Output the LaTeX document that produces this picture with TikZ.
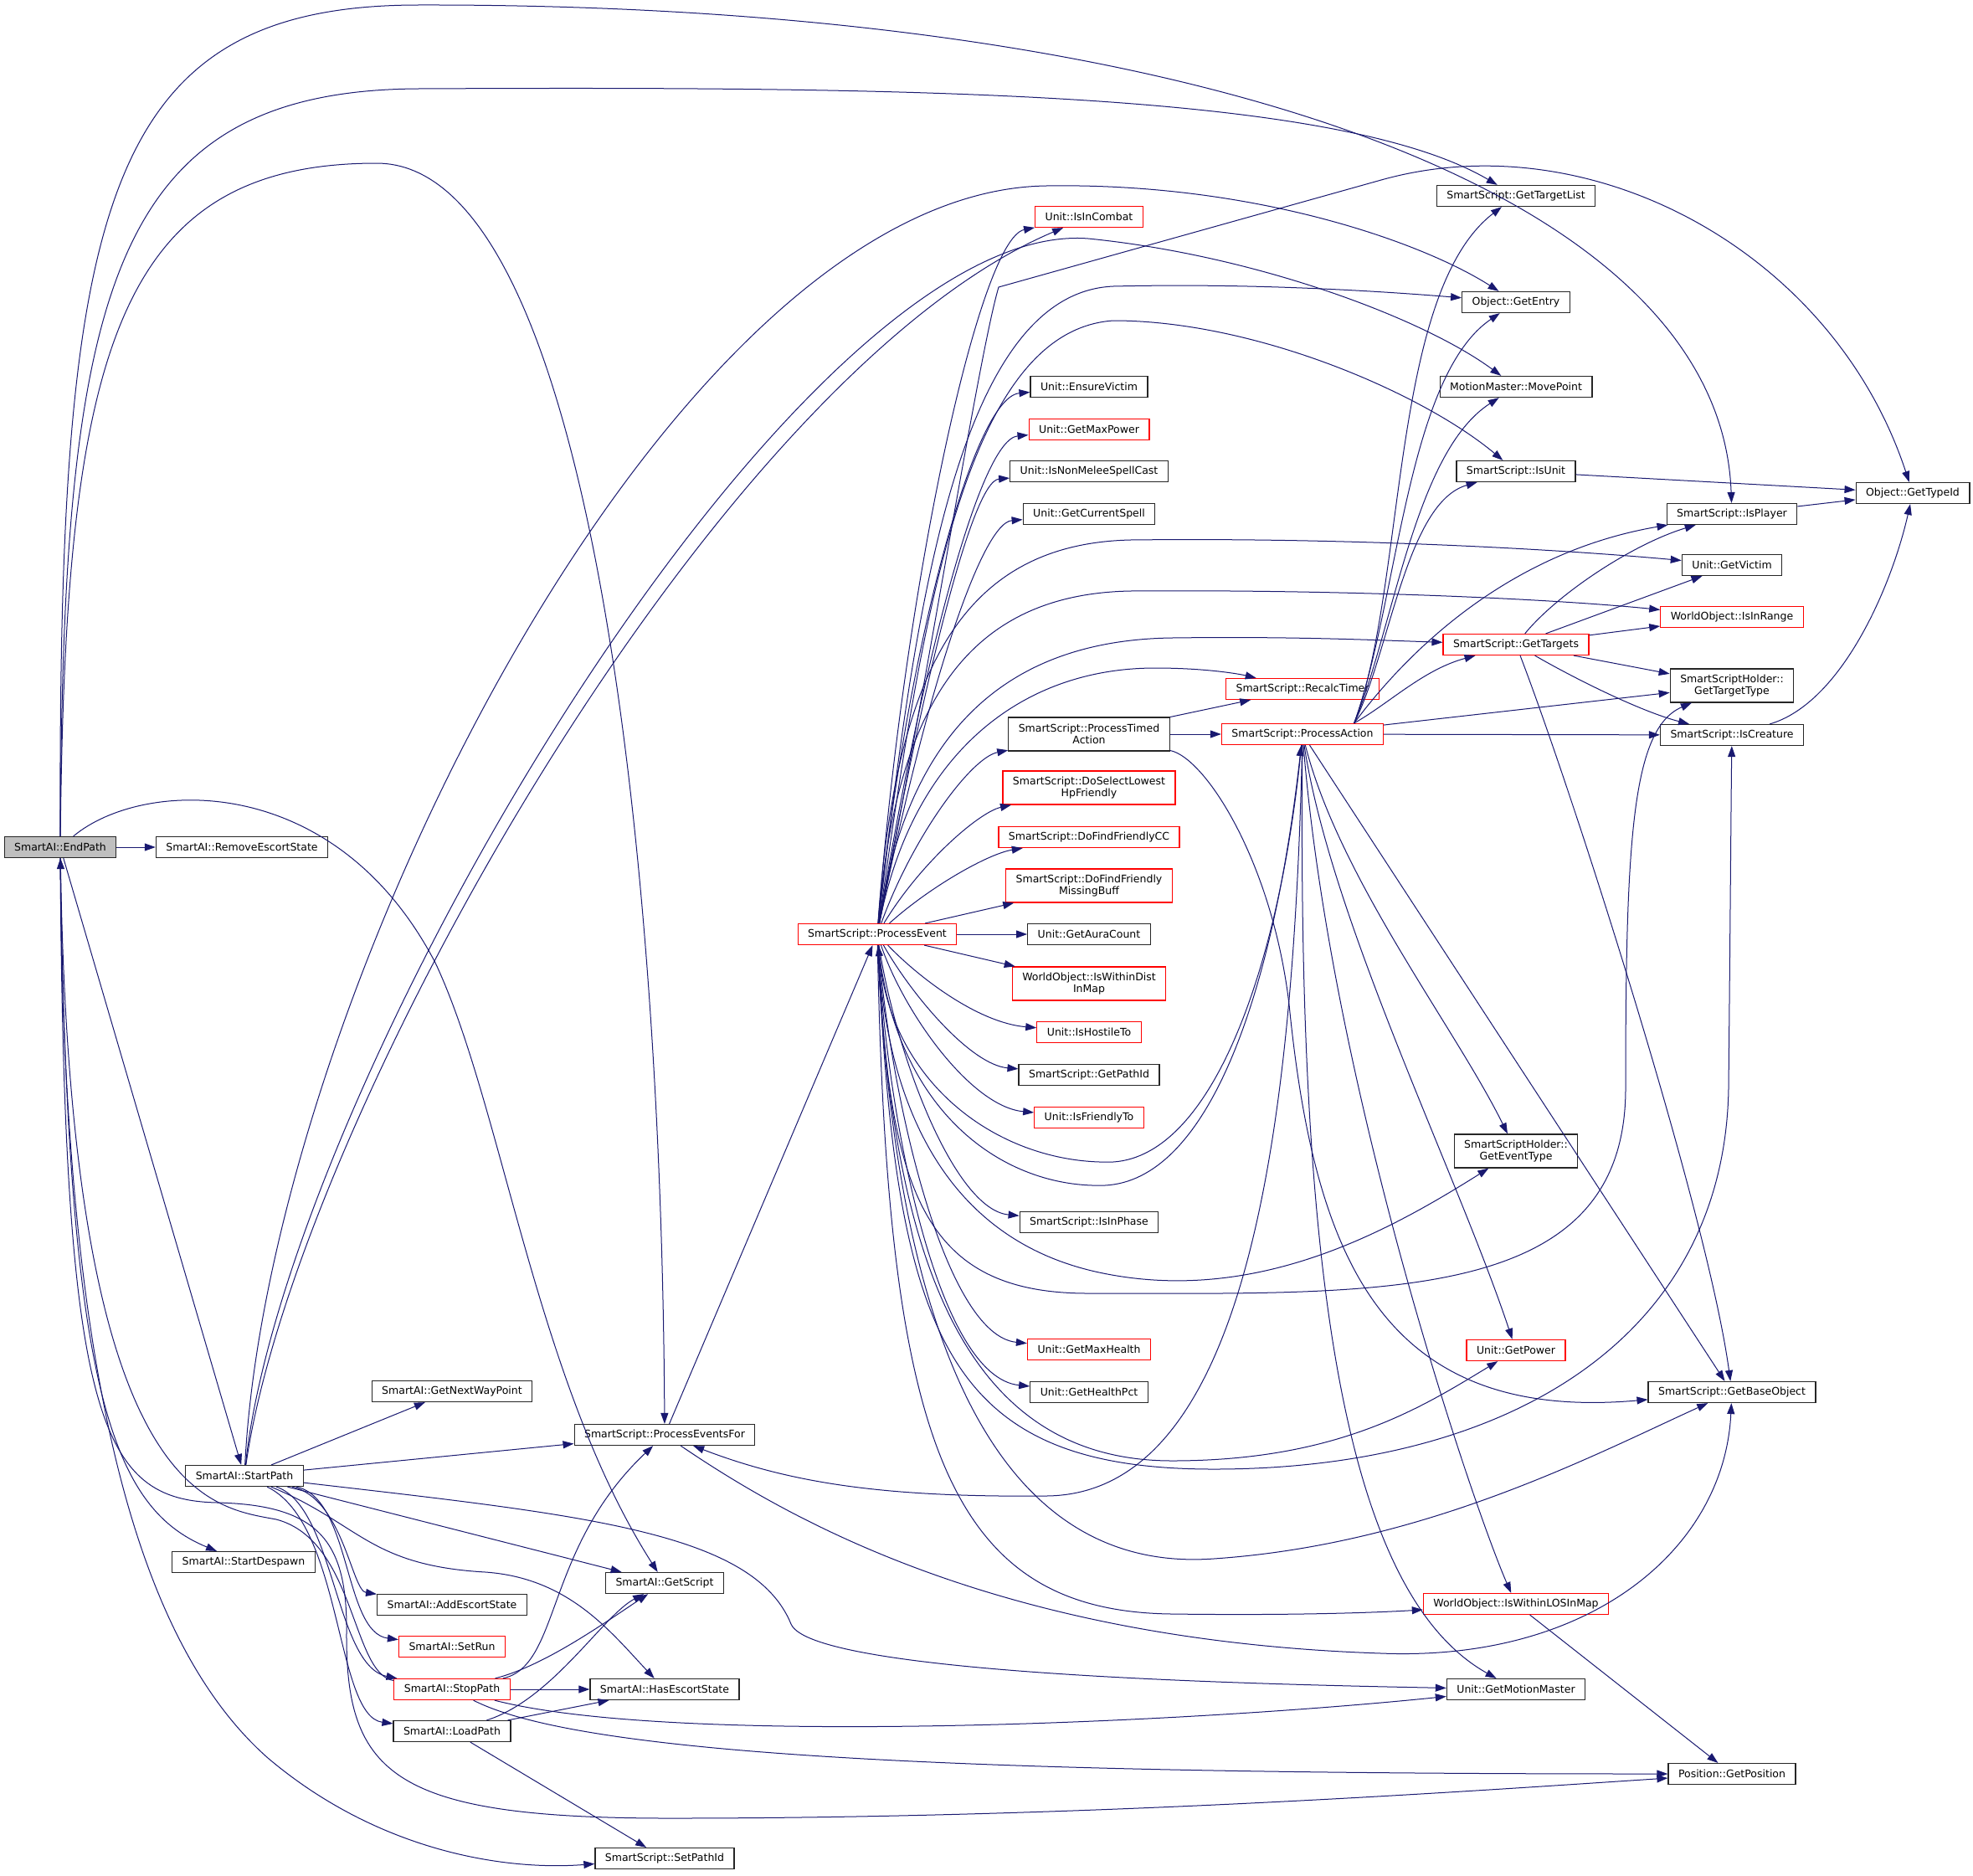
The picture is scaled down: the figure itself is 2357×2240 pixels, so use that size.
\documentclass[tikz,border=0pt]{standalone}
\usepackage{fontspec}
\setmainfont{DejaVu Sans}
\usetikzlibrary{arrows.meta}
\definecolor{navy}{HTML}{191970}

\begin{document}
\begin{tikzpicture}[x=1pt,y=-1pt,
	fn/.style={draw=black!85, line width=1.2pt, fill=white, inner xsep=12pt, inner ysep=2pt, minimum height=25pt, font=\fontsize{12.5}{14}\selectfont, align=center},
	hot/.style={fn, draw=red},
	two/.style={minimum height=40pt},
	call/.style={draw=navy, line width=1pt, -{Triangle[length=13pt,width=9pt]}}]

	% Frame
	\fill[white] (0,0) rectangle (2357,2240);
	\useasboundingbox (0,0) rectangle (2357,2240);

	% SmartAI side
	\node[fn, fill=black!25] (endPath) at (72,1012) {SmartAI::EndPath};
	\node[fn] (removeEscort) at (289,1012) {SmartAI::RemoveEscortState};
	\node[fn] (startPath) at (292,1763) {SmartAI::StartPath};
	\node[fn] (startDespawn) at (291,1866) {SmartAI::StartDespawn};
	\node[fn] (nextWayPoint) at (540,1662) {SmartAI::GetNextWayPoint};
	\node[fn] (eventsFor) at (794,1714) {SmartScript::ProcessEventsFor};
	\node[fn] (getScript) at (794,1891) {SmartAI::GetScript};
	\node[fn] (addEscort) at (540,1917) {SmartAI::AddEscortState};
	\node[hot] (setRun) at (540,1967) {SmartAI::SetRun};
	\node[hot] (stopPath) at (540,2018) {SmartAI::StopPath};
	\node[fn] (hasEscort) at (794,2018) {SmartAI::HasEscortState};
	\node[fn] (loadPath) at (540,2068) {SmartAI::LoadPath};
	\node[fn] (setPathId) at (794,2220) {SmartScript::SetPathId};

	% ProcessEvent and its column
	\node[hot] (event) at (1048,1116) {SmartScript::ProcessEvent};
	\node[hot] (inCombat) at (1301,259) {Unit::IsInCombat};
	\node[fn] (ensureVictim) at (1301,462) {Unit::EnsureVictim};
	\node[hot] (maxPower) at (1301,513) {Unit::GetMaxPower};
	\node[fn] (nonMelee) at (1301,563) {Unit::IsNonMeleeSpellCast};
	\node[fn] (curSpell) at (1301,614) {Unit::GetCurrentSpell};
	\node[hot] (recalc) at (1556,823) {SmartScript::RecalcTimer};
	\node[fn, two] (timed) at (1301,877) {SmartScript::ProcessTimed\\Action};
	\node[hot] (action) at (1556,877) {SmartScript::ProcessAction};
	\node[hot, two] (lowestHp) at (1301,941) {SmartScript::DoSelectLowest\\HpFriendly};
	\node[hot] (friendlyCC) at (1301,1000) {SmartScript::DoFindFriendlyCC};
	\node[hot, two] (missingBuff) at (1301,1058) {SmartScript::DoFindFriendly\\MissingBuff};
	\node[fn] (auraCount) at (1301,1116) {Unit::GetAuraCount};
	\node[hot, two] (distInMap) at (1301,1175) {WorldObject::IsWithinDist\\InMap};
	\node[hot] (hostile) at (1301,1233) {Unit::IsHostileTo};
	\node[fn] (getPathId) at (1301,1284) {SmartScript::GetPathId};
	\node[hot] (friendly) at (1301,1335) {Unit::IsFriendlyTo};
	\node[fn] (inPhase) at (1301,1460) {SmartScript::IsInPhase};
	\node[hot] (maxHealth) at (1301,1612) {Unit::GetMaxHealth};
	\node[fn] (healthPct) at (1301,1663) {Unit::GetHealthPct};

	% Right columns
	\node[fn] (targetList) at (1811,234) {SmartScript::GetTargetList};
	\node[fn] (getEntry) at (1811,361) {Object::GetEntry};
	\node[fn] (movePoint) at (1811,462) {MotionMaster::MovePoint};
	\node[fn] (isUnit) at (1811,563) {SmartScript::IsUnit};
	\node[hot] (targets) at (1811,770) {SmartScript::GetTargets};
	\node[fn, two] (eventType) at (1811,1375) {SmartScriptHolder::\\GetEventType};
	\node[hot] (getPower) at (1811,1613) {Unit::GetPower};
	\node[hot] (losInMap) at (1811,1916) {WorldObject::IsWithinLOSInMap};
	\node[fn] (motionMaster) at (1811,2018) {Unit::GetMotionMaster};
	\node[fn] (isPlayer) at (2069,614) {SmartScript::IsPlayer};
	\node[fn] (getVictim) at (2069,675) {Unit::GetVictim};
	\node[hot] (inRange) at (2069,737) {WorldObject::IsInRange};
	\node[fn, two] (targetType) at (2069,819) {SmartScriptHolder::\\GetTargetType};
	\node[fn] (isCreature) at (2069,878) {SmartScript::IsCreature};
	\node[fn] (baseObject) at (2069,1663) {SmartScript::GetBaseObject};
	\node[fn] (getPosition) at (2069,2119) {Position::GetPosition};
	\node[fn] (typeId) at (2285,589) {Object::GetTypeId};

	% EndPath
	\draw[call] (endPath) -- (removeEscort);
	\draw[call] (endPath) .. controls (70,250) and (120,6) .. (500,6) .. controls (1400,4) and (2055,220) .. (isPlayer);
	\draw[call] (endPath) .. controls (75,350) and (130,108) .. (500,106) .. controls (1100,103) and (1600,110) .. (targetList);
	\draw[call] (endPath) .. controls (78,420) and (140,195) .. (450,195) .. controls (700,195) and (790,1000) .. (eventsFor);
	\draw[call] (endPath) .. controls (170,930) and (400,920) .. (520,1150) .. controls (600,1320) and (640,1650) .. (getScript);
	\draw[call] (endPath) -- (startPath);
	\draw[call] (endPath) .. controls (80,1650) and (130,1800) .. (startDespawn);
	\draw[call] (endPath) .. controls (75,1600) and (150,1950) .. (320,2100) .. controls (450,2210) and (600,2235) .. (setPathId);
	\draw[call] (endPath) .. controls (76,1700) and (120,1792) .. (260,1795) .. controls (380,1798) and (415,1840) .. (414,1950) .. controls (413,2120) and (470,2172) .. (800,2172) .. controls (1300,2172) and (1750,2140) .. (getPosition);

	% StartPath
	\draw[call] (startPath) -- (nextWayPoint);
	\draw[call] (startPath) -- (eventsFor);
	\draw[call] (startPath) -- (getScript);
	\draw[call] (startPath) .. controls (410,1790) and (420,1900) .. (addEscort);
	\draw[call] (startPath) .. controls (420,1790) and (410,1950) .. (setRun);
	\draw[call] (startPath) .. controls (400,1800) and (400,1990) .. (stopPath);
	\draw[call] (startPath) .. controls (410,1820) and (400,2050) .. (loadPath);
	\draw[call] (startPath) .. controls (430,1820) and (440,1870) .. (580,1878) .. controls (680,1885) and (730,1950) .. (hasEscort);
	\draw[call] (startPath) .. controls (700,1810) and (900,1830) .. (945,1940) .. controls (970,2000) and (1500,2012) .. (motionMaster);
	\draw[call] (startPath) .. controls (350,1350) and (850,450) .. (inCombat);
	\draw[call] (startPath) .. controls (320,1200) and (800,228) .. (1250,222) .. controls (1500,218) and (1700,290) .. (getEntry);
	\draw[call] (startPath) .. controls (340,1300) and (950,258) .. (1300,285) .. controls (1500,305) and (1700,380) .. (movePoint);

	% StopPath and LoadPath
	\draw[call] (stopPath) -- (hasEscort);
	\draw[call] (stopPath) .. controls (650,1990) and (720,1940) .. (getScript);
	\draw[call] (stopPath) .. controls (670,1990) and (650,1850) .. (eventsFor);
	\draw[call] (stopPath) .. controls (800,2085) and (1400,2060) .. (motionMaster);
	\draw[call] (stopPath) .. controls (700,2100) and (1200,2119) .. (getPosition);
	\draw[call] (stopPath) .. controls (420,2000) and (425,1840) .. (330,1815) .. controls (250,1800) and (85,1790) .. (endPath);
	\draw[call] (loadPath) .. controls (660,2030) and (720,1930) .. (getScript);
	\draw[call] (loadPath) -- (hasEscort);
	\draw[call] (loadPath) -- (setPathId);

	% ProcessEventsFor
	\draw[call] (eventsFor) -- (event);
	\draw[call] (eventsFor) .. controls (950,1820) and (1200,1960) .. (1650,1975) .. controls (1900,1985) and (2060,1850) .. (baseObject);

	% ProcessEvent, upwards
	\draw[call] (event) .. controls (1080,700) and (1170,285) .. (inCombat);
	\draw[call] (event) .. controls (1110,800) and (1170,420) .. (1193,343) -- (1650,215) .. controls (1900,145) and (2190,300) .. (typeId);
	\draw[call] (event) .. controls (1090,750) and (1140,350) .. (1330,342) .. controls (1500,338) and (1650,348) .. (getEntry);
	\draw[call] (event) .. controls (1100,750) and (1150,395) .. (1330,383) .. controls (1500,383) and (1700,470) .. (isUnit);
	\draw[call] (event) .. controls (1080,800) and (1160,475) .. (ensureVictim);
	\draw[call] (event) .. controls (1100,800) and (1170,525) .. (maxPower);
	\draw[call] (event) .. controls (1100,830) and (1160,575) .. (nonMelee);
	\draw[call] (event) .. controls (1100,850) and (1170,625) .. (curSpell);
	\draw[call] (event) .. controls (1070,800) and (1150,650) .. (1350,645) .. controls (1600,642) and (1850,655) .. (getVictim);
	\draw[call] (event) .. controls (1070,850) and (1150,710) .. (1350,706) .. controls (1600,704) and (1850,715) .. (inRange);
	\draw[call] (event) .. controls (1080,900) and (1180,765) .. (1400,762) .. controls (1550,760) and (1650,765) .. (targets);
	\draw[call] (event) .. controls (1090,900) and (1220,798) .. (1380,798) .. controls (1440,798) and (1480,805) .. (recalc);
	\draw[call] (event) .. controls (1090,1000) and (1160,905) .. (timed);
	\draw[call] (event) .. controls (1100,1030) and (1170,970) .. (lowestHp);
	\draw[call] (event) .. controls (1110,1060) and (1180,1020) .. (friendlyCC);
	\draw[call] (event) -- (missingBuff);
	\draw[call] (event) -- (auraCount);
	\draw[call] (event) -- (distInMap);

	% ProcessEvent, downwards
	\draw[call] (event) .. controls (1100,1170) and (1170,1222) .. (hostile);
	\draw[call] (event) .. controls (1090,1190) and (1160,1272) .. (getPathId);
	\draw[call] (event) .. controls (1080,1210) and (1160,1322) .. (friendly);
	\draw[call] (event) .. controls (1070,1260) and (1140,1445) .. (inPhase);
	\draw[call] (event) .. controls (1065,1320) and (1130,1595) .. (maxHealth);
	\draw[call] (event) .. controls (1060,1340) and (1120,1645) .. (healthPct);
	\draw[call] (event) .. controls (1070,1330) and (1200,1420) .. (1320,1416) .. controls (1440,1410) and (1520,1200) .. (action);
	\draw[call] (action) .. controls (1530,1150) and (1450,1380) .. (1330,1388) .. controls (1200,1392) and (1065,1300) .. (event);
	\draw[call] (event) .. controls (1060,1350) and (1150,1485) .. (1313,1520) .. controls (1500,1560) and (1660,1470) .. (eventType);
	\draw[call] (event) .. controls (1062,1420) and (1100,1545) .. (1300,1545) .. controls (1650,1545) and (1942,1560) .. (1942,1300) .. controls (1942,1000) and (1950,870) .. (targetType);
	\draw[call] (event) .. controls (1065,1500) and (1150,1745) .. (1400,1745) .. controls (1600,1745) and (1700,1680) .. (getPower);
	\draw[call] (event) .. controls (1070,1600) and (1130,1755) .. (1450,1755) .. controls (1800,1755) and (2060,1600) .. (2065,1300) .. controls (2067,1100) and (2068,950) .. (isCreature);
	\draw[call] (event) .. controls (1070,1620) and (1200,1880) .. (1450,1862) .. controls (1700,1845) and (1900,1740) .. (baseObject);
	\draw[call] (event) .. controls (1060,1720) and (1130,1925) .. (1400,1928) .. controls (1550,1930) and (1650,1926) .. (losInMap);

	% ProcessTimedAction
	\draw[call] (timed) -- (recalc);
	\draw[call] (timed) -- (action);
	\draw[call] (timed) .. controls (1440,905) and (1520,1030) .. (1540,1200) .. controls (1570,1500) and (1650,1700) .. (baseObject);

	% ProcessAction
	\draw[call] (action.12) .. controls (1680,700) and (1660,350) .. (targetList);
	\draw[call] (action.12) .. controls (1670,720) and (1680,450) .. (getEntry);
	\draw[call] (action.12) .. controls (1665,750) and (1690,540) .. (movePoint);
	\draw[call] (action.12) .. controls (1660,780) and (1680,600) .. (isUnit);
	\draw[call] (action.12) .. controls (1680,780) and (1800,660) .. (isPlayer);
	\draw[call] (action.12) .. controls (1660,840) and (1700,800) .. (targets);
	\draw[call] (action) -- (targetType);
	\draw[call] (action) -- (isCreature);
	\draw[call] (action) .. controls (1600,1050) and (1740,1230) .. (eventType);
	\draw[call] (action) .. controls (1590,1100) and (1740,1400) .. (getPower);
	\draw[call] (action) -- (baseObject);
	\draw[call] (action) .. controls (1590,1300) and (1760,1800) .. (losInMap);
	\draw[call] (action) .. controls (1550,1500) and (1600,1900) .. (motionMaster);
	\draw[call] (action) .. controls (1545,1350) and (1490,1785) .. (1250,1787) .. controls (1050,1789) and (940,1770) .. (eventsFor);

	% GetTargets
	\draw[call] (targets) .. controls (1860,710) and (1950,650) .. (isPlayer);
	\draw[call] (targets) -- (getVictim);
	\draw[call] (targets) -- (inRange);
	\draw[call] (targets) -- (targetType);
	\draw[call] (targets) .. controls (1880,810) and (1960,850) .. (isCreature);
	\draw[call] (targets) .. controls (1880,950) and (2040,1450) .. (baseObject);

	% Type checks
	\draw[call] (isUnit) -- (typeId);
	\draw[call] (isPlayer) -- (typeId);
	\draw[call] (isCreature) .. controls (2200,840) and (2260,700) .. (typeId);
	\draw[call] (losInMap) -- (getPosition);

\end{tikzpicture}
\end{document}
